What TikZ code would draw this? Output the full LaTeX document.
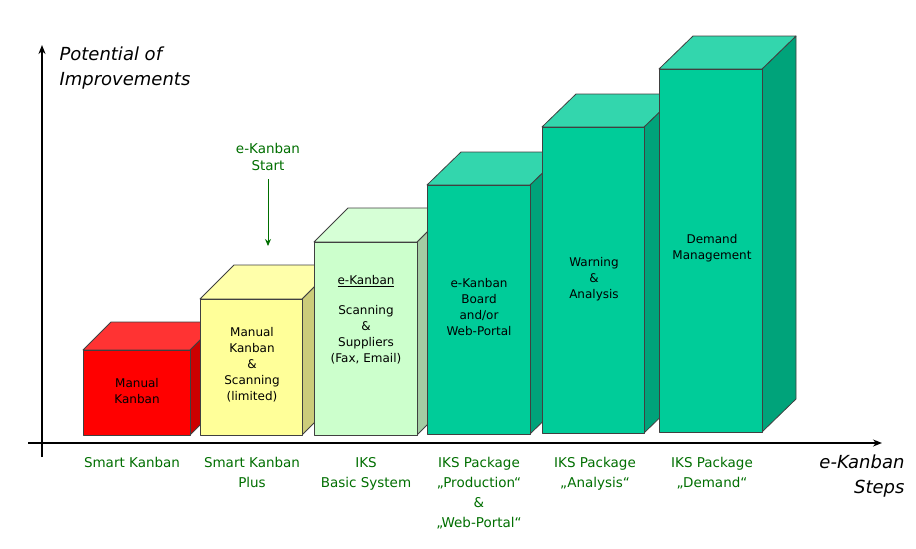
\documentclass[tikz,border=0pt]{standalone}
\usepackage{fontspec}
\setmainfont{DejaVu Sans}
\usetikzlibrary{arrows.meta}
\definecolor{dg}{RGB}{0,110,0}
\definecolor{rF}{RGB}{255,0,0}\definecolor{rS}{RGB}{204,0,0}\definecolor{rT}{RGB}{255,51,51}
\definecolor{yF}{RGB}{255,255,153}\definecolor{yS}{RGB}{204,204,122}\definecolor{yT}{RGB}{255,255,170}
\definecolor{lF}{RGB}{204,255,204}\definecolor{lS}{RGB}{163,204,163}\definecolor{lT}{RGB}{214,255,214}
\definecolor{tF}{RGB}{0,204,153}\definecolor{tS}{RGB}{0,163,122}\definecolor{tT}{RGB}{51,214,173}
\tikzset{
  boxtxt/.style={align=center,font=\fontsize{12}{16}\selectfont,text=black},
  steptxt/.style={align=center,font=\fontsize{13.5}{20}\selectfont,text=dg,anchor=north},
  axtxt/.style={font=\itshape\fontsize{18}{25}\selectfont,align=left},
  edge/.style={draw=black!75,line width=0.8pt,line join=round},
  axis/.style={line width=2.2pt,-{Stealth[length=9pt,width=7pt]}}
}
% #1 left, #2 right, #3 top, #4 bottom, #5 dx, #6 dy, #7 front, #8 side, #9 top colour
\newcommand\kbar[9]{%
  \filldraw[fill=#8,edge] (#2,#3) -- ++(#5,-#6) -- (#2+#5,#4-#6) -- (#2,#4) -- cycle;
  \filldraw[fill=#9,edge] (#1,#3) -- ++(#5,-#6) -- (#2+#5,#3-#6) -- (#2,#3) -- cycle;
  \filldraw[fill=#7,edge] (#1,#3) rectangle (#2,#4);
}
\begin{document}
\begin{tikzpicture}[x=1pt,y=-1pt]
\useasboundingbox (0,0) rectangle (916,549);
\kbar{83}{190}{350}{435}{28}{28}{rF}{rS}{rT}
\kbar{200}{302}{299}{435}{34}{34}{yF}{yS}{yT}
\kbar{314}{417}{242}{435}{34}{34}{lF}{lS}{lT}
\kbar{427}{530}{185}{434}{34}{33}{tF}{tS}{tT}
\kbar{542}{644}{127}{433}{34}{33}{tF}{tS}{tT}
\kbar{659}{762}{69}{432}{34}{33}{tF}{tS}{tT}
% axes
\coordinate (o1) at (42,457); \coordinate (yt) at (42,45);
\coordinate (o2) at (28,443); \coordinate (xt) at (882,443);
\draw[axis] (o1) -- (yt);
\draw[axis] (o2) -- (xt);
\node[axtxt,anchor=west] (ylab) at (56,68) {Potential of\\Improvements};
\node[axtxt,anchor=east,align=right] (xlab) at (908,476) {e-Kanban\\Steps};
% box texts
\node[boxtxt] (t1) at (137,391) {Manual\\Kanban};
\node[boxtxt] (t2) at (252,365) {Manual\\Kanban\\\&\\Scanning\\(limited)};
\node[boxtxt,anchor=north] (t3) at (366,272) {\underline{e-Kanban}\\[14pt]Scanning\\\&\\Suppliers\\(Fax, Email)};
\node[boxtxt] (t4) at (479,307) {e-Kanban\\Board\\and/or\\Web-Portal};
\node[boxtxt] (t5) at (594,279) {Warning\\\&\\Analysis};
\node[boxtxt] (t6) at (712,248) {Demand\\Management};
% start arrow
\node[align=center,text=dg,font=\fontsize{13.5}{17}\selectfont] (st) at (268,157) {e-Kanban\\Start};
\coordinate (sa) at (268,246);
\draw[dg,line width=1pt,-{Stealth[length=7pt,width=6pt]}] (st.south) ++(0,5) -- (sa);
% step labels
\node[steptxt] (s1) at (132,454) {Smart Kanban};
\node[steptxt] (s2) at (252,454) {Smart Kanban\\Plus};
\node[steptxt] (s3) at (366,454) {IKS\\Basic System};
\node[steptxt] (s4) at (479,454) {IKS Package\\„Production“\\\&\\„Web-Portal“};
\node[steptxt] (s5) at (595,454) {IKS Package\\„Analysis“};
\node[steptxt] (s6) at (712,454) {IKS Package\\„Demand“};
\end{tikzpicture}
\end{document}
